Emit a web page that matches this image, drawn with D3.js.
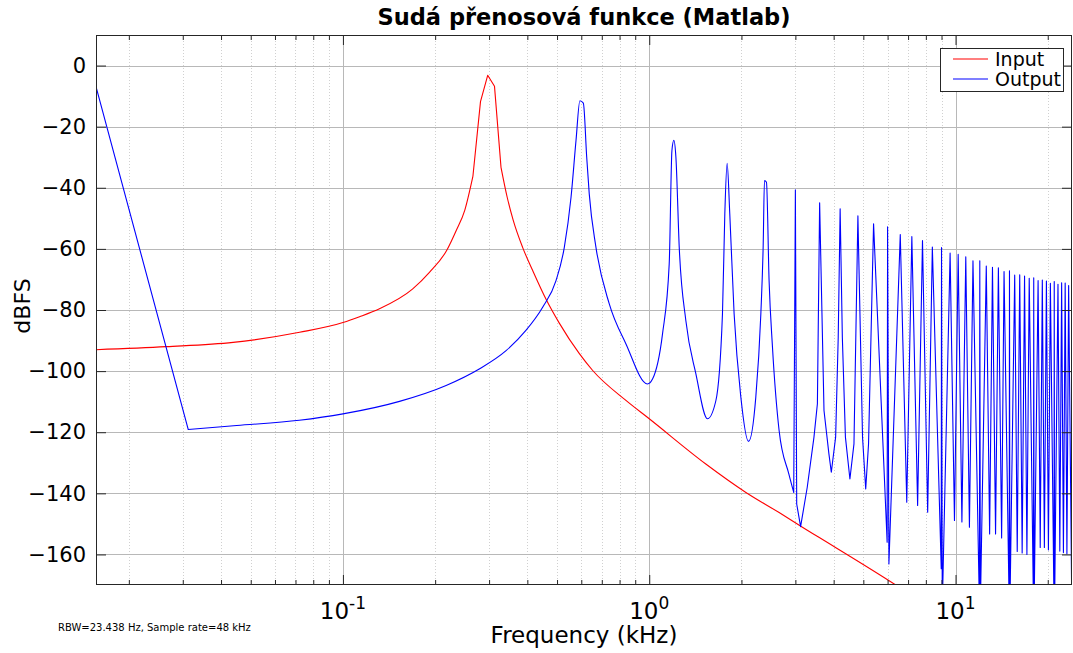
<!DOCTYPE html>
<html><head><meta charset="utf-8">
<script src="https://cdn.jsdelivr.net/npm/d3@7"></script>
<style>
body{margin:0;background:#fff;}
text{font-family:"DejaVu Sans",sans-serif;fill:#000;}
</style>
</head><body>
<svg id="c" width="1073" height="653"></svg>
<script>
const titleText = "Sudá přenosová funkce (Matlab)";
const xLabelText = "Frequency (kHz)";
const yLabelText = "dBFS";
const noteText = "RBW=23.438 Hz, Sample rate=48 kHz";
const seriesNames = ["Input", "Output"];
const seriesColors = ["#ff0000", "#0000ff"];
const xDomain = [0.015625, 24];
const yDomain = [-170, 10];
const yTicks = [0, -20, -40, -60, -80, -100, -120, -140, -160];
const xMajorTicks = [0.1, 1, 10];
const xTickExponents = ["-1", "0", "1"];
const xMinorTicks = [0.02,0.03,0.04,0.05,0.06,0.07,0.08,0.09,0.2,0.3,0.4,0.5,0.6,0.7,0.8,0.9,2,3,4,5,6,7,8,9,20];

const inputFreq = [0.015625,0.0265,0.0438,0.0722,0.1,0.1133,0.1316,0.169,0.1916,0.21875,0.234375,0.25,0.265625,0.28125,0.296875,0.3125,0.328125,0.34375,0.359375,0.386,0.4164,0.4604,0.5086,0.5914,0.6537,0.8392,1.0,1.53,2.068,2.655,3.163,3.58,6.38,8.0];
const inputDb = [-93.0,-92.0,-90.6,-87.3,-84.1,-82.2,-79.6,-73.1,-67.7,-60.3,-54.0,-47.3,-36.3,-11.8,-3.2,-6.8,-33.3,-43.1,-50.5,-59.5,-67.1,-76.5,-84.3,-94.3,-99.8,-109.6,-115.6,-130.4,-139.7,-146.3,-151.1,-154.4,-170.0,-176.5];

const outputFreq = [0.015625,0.03125,0.045,0.072,0.1,0.153,0.2172,0.2786,0.3409,0.3957,0.4488,0.4962,0.5281,0.5555,0.5767,0.59375,0.609375,0.625,0.637,0.67,0.7405,0.8395,0.9873,1.025,1.105,1.162,1.186,1.203,1.222,1.253,1.317,1.42,1.549,1.65,1.734,1.765,1.796,1.832,1.893,1.991,2.109,2.228,2.314,2.355,2.378,2.414,2.462,2.525,2.655,2.857,2.963,3.0,3.03,3.12,3.28,3.45,3.54,3.6,3.72,3.86,3.93,4.06,4.14,4.2,4.27,4.37,4.52,4.66,4.8,4.97,5.09,5.2,5.4,5.98,6.0,6.06,6.6,6.93,7.2,7.52,7.8,8.11,8.4,8.98,9.0,9.05,9.6,9.92,10.2,10.49,10.8,11.1,11.4,11.97,12.0,12.05,12.6,12.92,13.2,13.51,13.8,14.14,14.4,14.97,15.0,15.05,15.6,15.9,16.2,16.5,16.8,17.1,17.4,17.97,18.0,18.05,18.6,18.9,19.2,19.5,19.8,20.1,20.4,20.97,21.0,21.05,21.6,21.9,22.2,22.5,22.8,23.1,23.4,23.97,24.0];
const outputDb = [-6.9,-119.1,-117.8,-116.1,-114.0,-109.9,-104.7,-99.3,-93.3,-86.7,-79.1,-70.4,-59.5,-43.1,-24.5,-11.5,-12.3,-30.0,-42.0,-59.5,-78.0,-91.1,-104.2,-102.6,-87.8,-64.9,-27.8,-24.5,-30.0,-59.5,-83.5,-100.9,-115.6,-109.7,-81.3,-48.5,-32.0,-48.5,-81.3,-108.5,-123.0,-108.5,-81.3,-59.0,-37.6,-38.2,-70.4,-92.0,-119.5,-133.7,-139.7,-40.7,-143.5,-150.9,-138.0,-121.6,-110.7,-44.9,-112.9,-127.1,-133.1,-121.6,-88.9,-46.9,-88.9,-121.6,-135.3,-123.8,-49.2,-121.6,-138.6,-123.8,-51.8,-156.0,-52.8,-163.1,-55.3,-142.9,-56.0,-144.0,-57.3,-146.2,-59.4,-164.7,-59.6,-178,-61.4,-148.9,-61.8,-149.4,-62.6,-151.1,-63.9,-178,-63.9,-178,-65.6,-153.3,-66.0,-153.3,-66.2,-154.6,-67.4,-178,-67.2,-178,-68.6,-159.0,-68.5,-159.5,-68.9,-160.0,-69.6,-178,-69.5,-178,-70.4,-157.7,-70.2,-157.7,-70.5,-158.5,-71.3,-178,-70.7,-178,-71.6,-158.9,-71.1,-159.4,-71.2,-159.8,-72.0,-178,-72.0];

const L = 96, R = 1072, T = 35, B = 585;
const svg = d3.select("#c");
const x = d3.scaleLog().domain(xDomain).range([L, R]);
const y = d3.scaleLinear().domain(yDomain).range([B, T]);

svg.append("rect").attr("x", L).attr("y", T).attr("width", R - L).attr("height", B - T).attr("fill", "#fff");

// grids
const grid = svg.append("g");
grid.selectAll(".gm").data(xMinorTicks).join("line")
  .attr("x1", d => Math.round(x(d)) + 0.5).attr("x2", d => Math.round(x(d)) + 0.5)
  .attr("y1", T).attr("y2", B)
  .attr("stroke", "#d0d0d0").attr("stroke-width", 1).attr("stroke-dasharray", "1,2");
grid.selectAll(".gx").data(xMajorTicks).join("line")
  .attr("x1", d => Math.round(x(d)) + 0.5).attr("x2", d => Math.round(x(d)) + 0.5)
  .attr("y1", T).attr("y2", B)
  .attr("stroke", "#b8b8b8").attr("stroke-width", 1);
grid.selectAll(".gy").data(yTicks).join("line")
  .attr("x1", L).attr("x2", R)
  .attr("y1", d => Math.round(y(d)) + 0.5).attr("y2", d => Math.round(y(d)) + 0.5)
  .attr("stroke", "#b8b8b8").attr("stroke-width", 1);

// piecewise path: straight segments where the FFT bins are visible, smooth elsewhere
function piecewisePath(data, straight) {
  const lin = d3.line().x(d => x(d[0])).y(d => y(d[1])).curve(d3.curveLinear);
  const smo = d3.line().x(d => x(d[0])).y(d => y(d[1])).curve(d3.curveMonotoneX);
  let out = "", run = [data[0]], mode = straight(data[0], data[1]);
  for (let i = 1; i < data.length; i++) {
    const m = straight(data[i - 1], data[i]);
    if (m !== mode) {
      out += (mode ? lin : smo)(run);
      run = [data[i - 1]];
      mode = m;
    }
    run.push(data[i]);
  }
  out += (mode ? lin : smo)(run);
  return out;
}

svg.append("clipPath").attr("id", "clip").append("rect")
  .attr("x", L).attr("y", T).attr("width", R - L).attr("height", B - T);
const inputData = inputFreq.map((f, i) => [f, inputDb[i]]);
const outputData = outputFreq.map((f, i) => [f, outputDb[i]]);
const lg = svg.append("g").attr("clip-path", "url(#clip)");
lg.append("path").attr("d", piecewisePath(inputData, (a, b) => a[0] >= 0.26 && b[0] <= 0.33))
  .attr("fill", "none").attr("stroke", seriesColors[0]).attr("stroke-width", 1.1)
  .attr("stroke-linejoin", "round").attr("stroke-linecap", "round");
lg.append("path").attr("d", piecewisePath(outputData, (a, b) => b[0] <= 0.032 || a[0] >= 2.96))
  .attr("fill", "none").attr("stroke", seriesColors[1]).attr("stroke-width", 1.1)
  .attr("stroke-linejoin", "round").attr("stroke-linecap", "round");

// axes
const axCol = "#262626";
const yAxis = d3.axisLeft(y).tickValues(yTicks).tickSizeInner(-10).tickSizeOuter(0).tickPadding(10).tickFormat(d3.format("d"));
const gy = svg.append("g").attr("transform", `translate(${L},0)`).call(yAxis);
gy.select(".domain").remove();
gy.selectAll("line").attr("stroke", axCol);
gy.selectAll("text").attr("font-size", 21).attr("font-family", "DejaVu Sans").attr("fill", "#000");

const yAxisR = d3.axisRight(y).tickValues(yTicks).tickSizeInner(-10).tickSizeOuter(0).tickFormat("");
const gyr = svg.append("g").attr("transform", `translate(${R},0)`).call(yAxisR);
gyr.select(".domain").remove();
gyr.selectAll("line").attr("stroke", axCol);

function xAxisAt(gen, ypos, ticks, size) {
  const a = gen(x).tickValues(ticks).tickSizeInner(size).tickSizeOuter(0).tickFormat("");
  const g = svg.append("g").attr("transform", `translate(0,${ypos})`).call(a);
  g.select(".domain").remove();
  g.selectAll("line").attr("stroke", axCol);
}
xAxisAt(d3.axisBottom, B, xMajorTicks, -10);
xAxisAt(d3.axisBottom, B, xMinorTicks, -5);
xAxisAt(d3.axisTop, T, xMajorTicks, -10);
xAxisAt(d3.axisTop, T, xMinorTicks, -5);

svg.append("rect").attr("x", L + 0.5).attr("y", T + 0.5).attr("width", R - L - 1).attr("height", B - T - 1)
  .attr("fill", "none").attr("stroke", axCol).attr("stroke-width", 1);

// x tick labels
xMajorTicks.forEach((t, i) => {
  const tx = svg.append("text").attr("x", x(t)).attr("y", 619).attr("text-anchor", "middle").attr("font-size", 23);
  tx.append("tspan").text("10");
  tx.append("tspan").attr("dy", -10).attr("font-size", 17).text(xTickExponents[i]);
});

// labels
svg.append("text").attr("x", (L + R) / 2).attr("y", 25).attr("text-anchor", "middle")
  .attr("font-size", 22.5).attr("font-weight", "bold").text(titleText);
svg.append("text").attr("x", (L + R) / 2).attr("y", 643).attr("text-anchor", "middle")
  .attr("font-size", 23).text(xLabelText);
svg.append("text").attr("transform", `translate(30,306) rotate(-90)`).attr("text-anchor", "middle")
  .attr("font-size", 22).text(yLabelText);
svg.append("text").attr("x", 58).attr("y", 631).attr("font-size", 10).text(noteText);

// legend
const leg = svg.append("g");
leg.append("rect").attr("x", 940.5).attr("y", 48.5).attr("width", 123).attr("height", 43)
  .attr("fill", "#fff").attr("stroke", axCol).attr("stroke-width", 1);
seriesNames.forEach((n, i) => {
  const yy = 59 + i * 20;
  leg.append("line").attr("x1", 953).attr("x2", 988).attr("y1", yy).attr("y2", yy)
    .attr("stroke", seriesColors[i]).attr("stroke-width", 1.1);
  leg.append("text").attr("x", 995).attr("y", yy + 6.5).attr("font-size", 19).text(n);
});
</script>
</body></html>
